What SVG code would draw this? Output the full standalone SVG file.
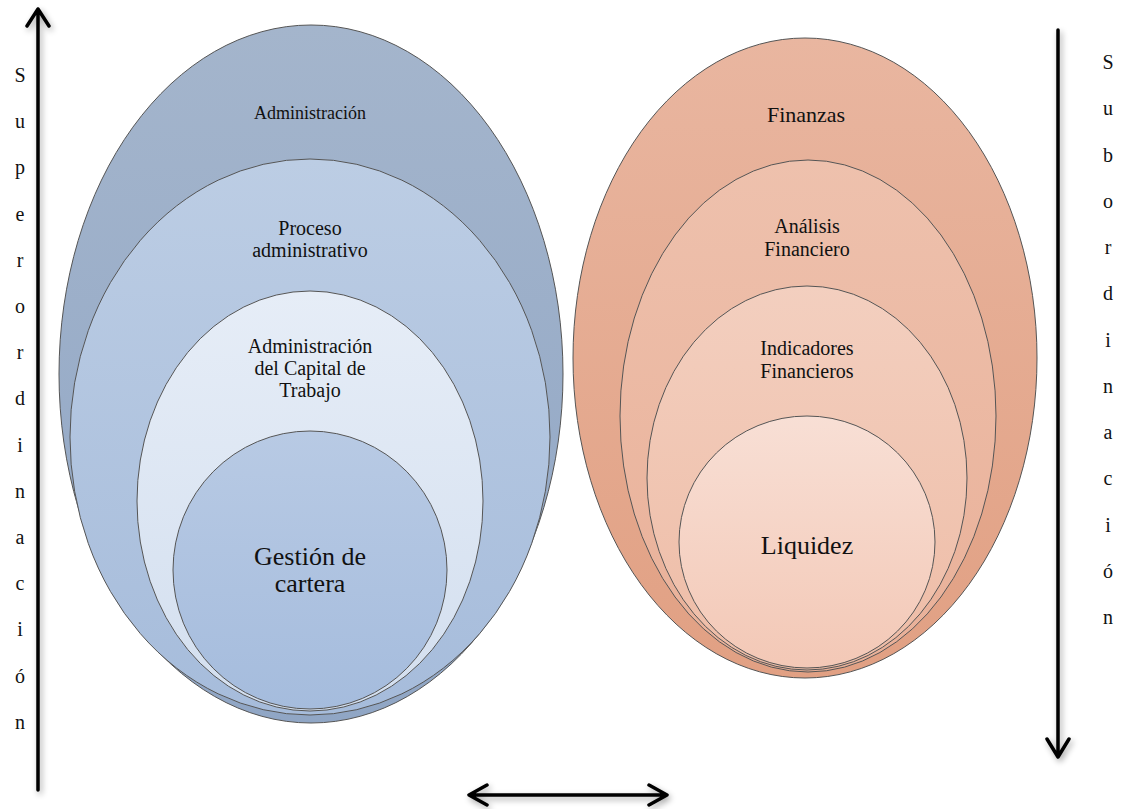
<svg xmlns="http://www.w3.org/2000/svg" width="1130" height="809" viewBox="0 0 1130 809">
<style>
.e{stroke:#555;stroke-width:1}
.t{fill:#111;text-anchor:middle}
.v{fill:#111;text-anchor:middle;font-size:20px}
.arr{stroke:#000;stroke-width:3.5;fill:none;stroke-linecap:round;stroke-linejoin:round}
</style>
<defs>
<linearGradient id="gA" x1="0" y1="0" x2="0" y2="1"><stop offset="0" stop-color="#a4b5cc"/><stop offset="1" stop-color="#90a6c5"/></linearGradient>
<linearGradient id="gB" x1="0" y1="0" x2="0" y2="1"><stop offset="0" stop-color="#bccde4"/><stop offset="1" stop-color="#a6bcdb"/></linearGradient>
<linearGradient id="gC" x1="0" y1="0" x2="0" y2="1"><stop offset="0" stop-color="#e6edf7"/><stop offset="1" stop-color="#d3dfef"/></linearGradient>
<linearGradient id="gD" x1="0" y1="0" x2="0" y2="1"><stop offset="0" stop-color="#b8cae4"/><stop offset="1" stop-color="#a5bcdd"/></linearGradient>
<linearGradient id="gE" x1="0" y1="0" x2="0" y2="1"><stop offset="0" stop-color="#e9b6a0"/><stop offset="1" stop-color="#e1a083"/></linearGradient>
<linearGradient id="gF" x1="0" y1="0" x2="0" y2="1"><stop offset="0" stop-color="#eec1ad"/><stop offset="1" stop-color="#e9b098"/></linearGradient>
<linearGradient id="gG" x1="0" y1="0" x2="0" y2="1"><stop offset="0" stop-color="#f3cfbf"/><stop offset="1" stop-color="#eebca6"/></linearGradient>
<linearGradient id="gH" x1="0" y1="0" x2="0" y2="1"><stop offset="0" stop-color="#f8dfd5"/><stop offset="1" stop-color="#f3c8b6"/></linearGradient>
<filter id="sh" x="-20%" y="-5%" width="140%" height="110%"><feGaussianBlur in="SourceAlpha" stdDeviation="3"/><feOffset dx="2" dy="3"/><feComponentTransfer><feFuncA type="linear" slope="0.35"/></feComponentTransfer><feMerge><feMergeNode/><feMergeNode in="SourceGraphic"/></feMerge></filter>
</defs>

<g font-family="Liberation Serif, Times New Roman, Times, Tinos, Noto Serif, DejaVu Serif, FreeSerif, serif">
<g id="n-administracion">
<ellipse class="e" cx="311" cy="374" rx="252" ry="349" fill="url(#gA)"/>
<text class="t" x="310" y="119" font-size="18">Administración</text>
</g>
<g id="n-proceso">
<ellipse class="e" cx="310" cy="437" rx="240" ry="278" fill="url(#gB)"/>
<text class="t" x="310" y="235" font-size="20">Proceso</text>
<text class="t" x="310" y="257" font-size="20">administrativo</text>
</g>
<g id="n-capital">
<ellipse class="e" cx="310" cy="501" rx="173" ry="210" fill="url(#gC)"/>
<text class="t" x="310" y="353" font-size="20">Administración</text>
<text class="t" x="310" y="375" font-size="20">del Capital de</text>
<text class="t" x="310" y="397" font-size="20">Trabajo</text>
</g>
<g id="n-gestion">
<ellipse class="e" cx="310" cy="570" rx="137" ry="139" fill="url(#gD)"/>
<text class="t" x="310" y="565" font-size="26">Gestión de</text>
<text class="t" x="310" y="592" font-size="26">cartera</text>
</g>

<g id="n-finanzas">
<ellipse class="e" cx="805" cy="358" rx="232" ry="320" fill="url(#gE)"/>
<text class="t" x="806" y="122" font-size="22">Finanzas</text>
</g>
<g id="n-analisis">
<ellipse class="e" cx="808" cy="416" rx="188" ry="256" fill="url(#gF)"/>
<text class="t" x="807" y="233" font-size="20">Análisis</text>
<text class="t" x="807" y="256" font-size="20">Financiero</text>
</g>
<g id="n-indicadores">
<ellipse class="e" cx="807" cy="478" rx="160" ry="192" fill="url(#gG)"/>
<text class="t" x="807" y="355" font-size="20">Indicadores</text>
<text class="t" x="807" y="378" font-size="20">Financieros</text>
</g>
<g id="n-liquidez">
<ellipse class="e" cx="807" cy="542" rx="128" ry="126" fill="url(#gH)"/>
<text class="t" x="807" y="554" font-size="26">Liquidez</text>
</g>

<g id="connectors" filter="url(#sh)">
<path class="arr" d="M38 790 V9 M27 26 L38 9 L49 26"/>
<path class="arr" d="M1058 30 V757 M1047 739 L1058 757 L1069 739"/>
<path class="arr" d="M469 795 H667 M487 785 L469 795 L487 805 M649 785 L667 795 L649 805"/>
</g>

<g id="label-superordinacion">
<text class="v" x="20" y="82">S</text>
<text class="v" x="20" y="128">u</text>
<text class="v" x="20" y="174">p</text>
<text class="v" x="20" y="221">e</text>
<text class="v" x="20" y="267">r</text>
<text class="v" x="20" y="313">o</text>
<text class="v" x="20" y="359">r</text>
<text class="v" x="20" y="405">d</text>
<text class="v" x="20" y="452">i</text>
<text class="v" x="20" y="498">n</text>
<text class="v" x="20" y="544">a</text>
<text class="v" x="20" y="590">c</text>
<text class="v" x="20" y="636">i</text>
<text class="v" x="20" y="683">ó</text>
<text class="v" x="20" y="729">n</text>
</g>
<g id="label-subordinacion">
<text class="v" x="1108" y="69">S</text>
<text class="v" x="1108" y="115">u</text>
<text class="v" x="1108" y="162">b</text>
<text class="v" x="1108" y="208">o</text>
<text class="v" x="1108" y="254">r</text>
<text class="v" x="1108" y="300">d</text>
<text class="v" x="1108" y="347">i</text>
<text class="v" x="1108" y="393">n</text>
<text class="v" x="1108" y="439">a</text>
<text class="v" x="1108" y="485">c</text>
<text class="v" x="1108" y="532">i</text>
<text class="v" x="1108" y="578">ó</text>
<text class="v" x="1108" y="624">n</text>
</g>
</g>
</svg>
